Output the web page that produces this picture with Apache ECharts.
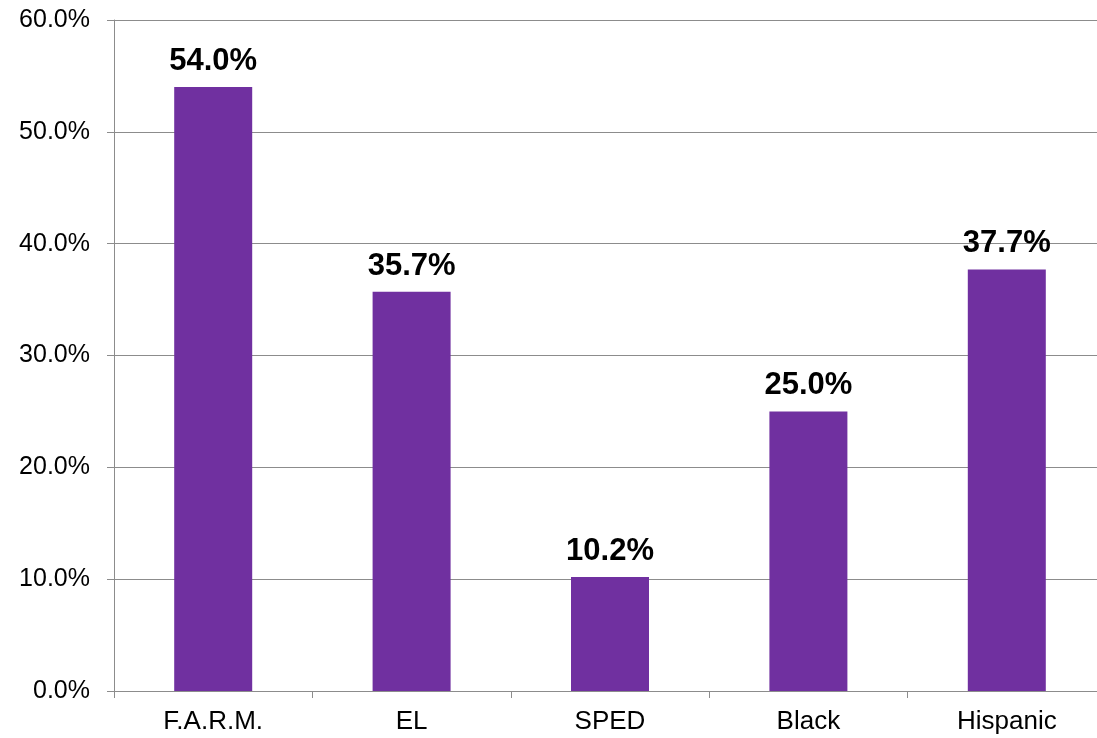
<!DOCTYPE html>
<html><head><meta charset="utf-8">
<script src="https://cdn.jsdelivr.net/npm/echarts@6/dist/echarts.min.js"></script>
<style>html,body{margin:0;padding:0;background:#fff;overflow:hidden}#c{width:1110px;height:738px}</style>
</head><body><div id="c"></div>
<script>
const categories = ['F.A.R.M.', 'EL', 'SPED', 'Black', 'Hispanic'];
const values = [54.0, 35.7, 10.2, 25.0, 37.7];
const yTicks = [0, 10, 20, 30, 40, 50, 60];

const chart = echarts.init(document.getElementById('c'));
chart.setOption({
  animation: false,
  grid: { left: 114, right: 4, top: 20, bottom: 47, containLabel: false },
  xAxis: {
    type: 'category', data: categories,
    axisLine: { lineStyle: { color: '#8c8c8c', width: 1 } },
    axisTick: { show: true, length: 7, lineStyle: { color: '#8c8c8c' } },
    axisLabel: { color: '#000', fontFamily: 'Liberation Sans, Arial', fontSize: 26, margin: 18 }
  },
  yAxis: {
    type: 'value', min: yTicks[0], max: yTicks[yTicks.length - 1], interval: 10,
    axisLine: { show: true, lineStyle: { color: '#8c8c8c', width: 1 } },
    axisTick: { show: true, length: 7, lineStyle: { color: '#8c8c8c' } },
    splitLine: { lineStyle: { color: '#8c8c8c', width: 1 } },
    axisLabel: { color: '#000', fontFamily: 'Liberation Sans, Arial', fontSize: 25, margin: 24,
      formatter: v => v.toFixed(1) + '%' }
  },
  series: [{
    type: 'bar', data: values, barWidth: 78,
    itemStyle: { color: '#7030A0' },
    label: { show: true, position: 'top', distance: 10, color: '#000',
      fontFamily: 'Liberation Sans, Arial', fontWeight: 'bold', fontSize: 31,
      formatter: p => p.value.toFixed(1) + '%' }
  }]
});
</script></body></html>
